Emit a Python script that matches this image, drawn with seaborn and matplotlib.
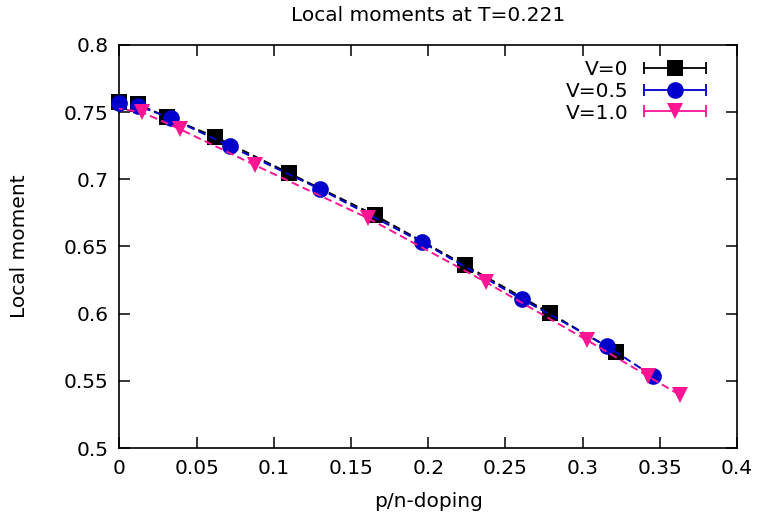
import numpy as np
import pandas as pd
import matplotlib
matplotlib.use("Agg")
import matplotlib.pyplot as plt
import seaborn as sns
from matplotlib.lines import Line2D
from matplotlib.legend_handler import HandlerLine2D, HandlerTuple

# Data
x_v0 = [0.0, 0.0117, 0.0305, 0.0622, 0.1096, 0.1653, 0.2237, 0.2788, 0.3216]
y_v0 = [0.7576, 0.7561, 0.7464, 0.7315, 0.7047, 0.6734, 0.6362, 0.6004, 0.5714]

x_v05 = [0.0, 0.0123, 0.0331, 0.0713, 0.1297, 0.1958, 0.2606, 0.3157, 0.3455]
y_v05 = [0.7568, 0.7546, 0.7456, 0.7248, 0.6928, 0.6533, 0.6109, 0.5759, 0.5535]

x_v10 = [-0.003, 0.0143, 0.0389, 0.0875, 0.1608, 0.2373, 0.3028, 0.3423, 0.3630]
y_v10 = [0.7530, 0.7501, 0.7375, 0.7107, 0.6712, 0.6235, 0.5803, 0.5535, 0.5394]

labels = ["V=0", "V=0.5", "V=1.0"]
colors = ["#000000", "#0000cc", "#ff1493"]
markers = ["s", "o", "v"]
msizes = [11.5, 12, 12]

xticks = [0, 0.05, 0.1, 0.15, 0.2, 0.25, 0.3, 0.35, 0.4]
xticklabels = ["0", "0.05", "0.1", "0.15", "0.2", "0.25", "0.3", "0.35", "0.4"]
yticks = [0.5, 0.55, 0.6, 0.65, 0.7, 0.75, 0.8]
yticklabels = ["0.5", "0.55", "0.6", "0.65", "0.7", "0.75", "0.8"]

sns.set_style("ticks")
plt.rcParams['font.family'] = ['DejaVu Sans']
plt.rcParams['text.color'] = 'black'
plt.rcParams['axes.labelcolor'] = 'black'
FS = 14.5

fig = plt.figure(figsize=(7.59, 5.19), dpi=100)
ax = fig.add_axes([0.1574, 0.1368, 0.9710 - 0.1574, 0.9133 - 0.1368])

series = [(x_v0, y_v0), (x_v05, y_v05), (x_v10, y_v10)]
for i, ((xs, ys), lab, c, m, ms) in enumerate(zip(series, labels, colors, markers, msizes)):
    df = pd.DataFrame({"x": xs, "y": ys})
    sns.lineplot(data=df, x="x", y="y", ax=ax, color=c, sort=False,
                 linestyle=(0, (4.0, 2.2)), linewidth=1.4, zorder=2 + i)
    mdf = df[df["x"] >= 0]
    ax.plot(mdf["x"], mdf["y"], linestyle="none", marker=m, markersize=ms,
            color=c, markeredgewidth=0, zorder=2 + i, clip_on=False)

ax.set_xlim(0, 0.4)
ax.set_ylim(0.5, 0.8)
ax.set_xticks(xticks)
ax.set_xticklabels(xticklabels)
ax.set_yticks(yticks)
ax.set_yticklabels(yticklabels)
ax.tick_params(direction="in", length=8, width=1.1, top=True, right=True,
               labelsize=FS, pad=8, colors="black")
for sp in ax.spines.values():
    sp.set_visible(True)
    sp.set_linewidth(1.2)
    sp.set_color("black")

ax.set_xlabel("p/n-doping", fontsize=FS, color="black")
ax.set_ylabel("Local moment", fontsize=FS, color="black")
ax.xaxis.set_label_coords(0.5, -0.11)
ax.yaxis.set_label_coords(-0.147, 0.5)
ax.set_title("Local moments at T=0.221", fontsize=FS, pad=17, color="black")

# gnuplot-style legend: label left, errorbar sample with marker overlaid
handles = []
hmap = {}
for lab, c, m, ms in zip(labels, colors, markers, msizes):
    bar = Line2D([], [], color=c, marker="|", markersize=9, markeredgewidth=1.3, linewidth=1.3)
    mk = Line2D([], [], color=c, marker=m, markersize=ms, linestyle="none", markeredgewidth=0)
    hmap[bar] = HandlerLine2D(numpoints=2, marker_pad=0)
    hmap[mk] = HandlerLine2D(numpoints=1)
    handles.append((bar, mk))
hmap[tuple] = HandlerTuple(ndivide=1, pad=0)

leg = ax.legend(handles, labels, loc="upper right", frameon=False, markerfirst=False,
                fontsize=FS, handlelength=3.1, handletextpad=0.75, labelspacing=0.13,
                borderaxespad=0.0, bbox_to_anchor=(0.963, 0.982),
                handler_map=hmap)
for t in leg.get_texts():
    t.set_color("black")

fig.savefig("out.png", dpi=100)
